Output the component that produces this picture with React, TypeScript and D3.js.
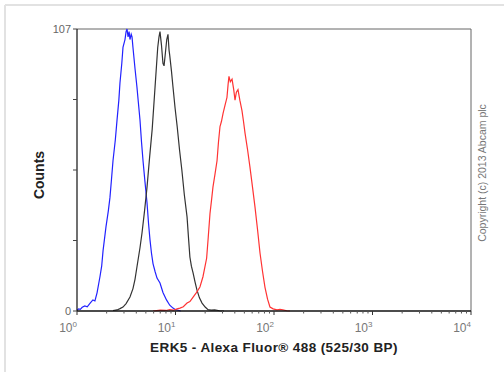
import * as d3 from 'd3';

// histogram channels: [fluorescence value, count]
const blueSeries: [number, number][] = [
  [1.0, 0.3], [1.04, 0.8], [1.08, 0.6], [1.13, 1.4], [1.2, 1.9], [1.27, 1.6], [1.36, 3.0],
  [1.45, 4.2], [1.52, 3.8], [1.6, 7], [1.71, 13], [1.78, 17], [1.84, 23], [1.97, 32],
  [2.08, 38], [2.16, 43], [2.24, 50], [2.32, 57], [2.45, 65], [2.55, 72.5], [2.66, 80],
  [2.73, 86.5], [2.85, 94], [2.93, 100], [3.07, 103], [3.15, 106], [3.22, 107], [3.3, 104],
  [3.38, 106], [3.45, 103], [3.55, 105], [3.62, 104], [3.7, 100], [3.88, 92], [4.06, 85],
  [4.2, 79], [4.36, 72.5], [4.52, 64], [4.68, 57], [4.9, 49], [5.14, 41], [5.33, 33],
  [5.51, 27], [5.7, 22], [5.91, 18], [6.2, 15], [6.49, 12.5], [6.96, 10.6], [7.46, 7],
  [8.1, 4.2], [8.74, 2.2], [9.43, 1.1], [10.0, 0.5], [10.6, 0.3], [11.3, 0],
];

const blackSeries: [number, number][] = [
  [2.32, 0.2], [2.55, 0.4], [2.73, 0.9], [2.93, 1.5], [3.15, 2.8], [3.45, 5.3], [3.7, 8.5],
  [3.88, 12], [4.06, 16.7], [4.36, 24], [4.57, 29.6], [4.85, 38], [5.14, 47], [5.45, 58],
  [5.8, 69], [6.2, 85], [6.6, 100], [6.8, 104], [6.96, 106], [7.2, 101], [7.46, 94],
  [7.65, 93], [7.9, 98], [8.15, 103], [8.39, 105], [8.6, 99], [8.74, 97], [9.1, 91],
  [9.43, 85], [9.9, 77], [10.4, 70], [11.0, 61], [11.6, 53.5], [12.3, 44], [13.1, 35.7],
  [13.6, 27], [14.0, 20.5], [14.5, 17], [15.1, 14.4], [15.8, 11], [16.5, 8], [17.5, 5],
  [18.6, 3], [20.0, 1.5], [21.4, 0.5], [23.0, 0.3], [25.0, 0.4], [28.0, 0.1], [31.0, 0],
];

const redSeries: [number, number][] = [
  [5.9, 0], [7.0, 0.3], [8.0, 0.2], [8.74, 0.5], [9.5, 0.3], [10.4, 0.8], [11.1, 1.1],
  [12.0, 1.6], [13.1, 3], [14.0, 3.6], [15.1, 5.3], [16.3, 7], [17.7, 9.1], [19.0, 13],
  [20.7, 20], [21.5, 28], [22.4, 37], [23.2, 42], [24.0, 47], [25.2, 52], [26.4, 57],
  [27.3, 64], [28.3, 70], [29.3, 72], [30.4, 75], [31.8, 78], [33.3, 81], [34.2, 86],
  [34.9, 89], [36.0, 87], [37.5, 88], [39.0, 84], [40.2, 80], [41.5, 83], [43.1, 84],
  [45.0, 80], [47.3, 76], [49.0, 72], [50.8, 67.5], [54.0, 61], [57.0, 54.6], [60.5, 47],
  [64.1, 39.5], [68.0, 31], [72.1, 22], [76.5, 15], [81.0, 9], [86.0, 4.5], [91.0, 1.5],
  [98, 0.8], [107, 0.4], [115, 0.6], [123, 0.4], [135, 0.1], [145, 0],
];

const xDecades = [0, 1, 2, 3, 4];
const yTicks = [0, 26.75, 53.5, 80.25, 107];
const yLabels = ['0', '107'];
const xTitle = 'ERK5 - Alexa Fluor® 488 (525/30 BP)';
const yTitle = 'Counts';
const copyright = 'Copyright (c) 2013 Abcam plc';

const W = 504;
const H = 372;
const left = 77;
const right = 471;
const top = 29;
const bottom = 311;
const font = '"Liberation Sans", Arial, sans-serif';

export default function App() {
  const x = d3.scaleLog().domain([1, 10000]).range([left, right]);
  const y = d3.scaleLinear().domain([0, 107]).range([bottom, top]);

  const line = d3.line<[number, number]>()
    .x(d => x(d[0]))
    .y(d => y(d[1]))
    .curve(d3.curveLinear);

  const minor: number[] = [];
  for (let p = 0; p < 4; p++) {
    for (let k = 2; k <= 9; k++) minor.push(k * Math.pow(10, p));
  }

  return (
    <svg width={W} height={H} style={{ position: 'absolute', left: 0, top: 0, background: '#fff' }}>
      {/* outer frame (cropped screenshot border) */}
      <line x1={5} x2={W} y1={5} y2={5} stroke="#e2e2e2" strokeWidth={2} />
      <line x1={5} x2={5} y1={5} y2={H} stroke="#e2e2e2" strokeWidth={2} />

      {/* plot frame */}
      <line x1={left} x2={right} y1={top} y2={top} stroke="#666" strokeWidth={1} />
      <line x1={right} x2={right} y1={top} y2={bottom} stroke="#666" strokeWidth={1} />

      {/* series */}
      <path d={line(blueSeries) ?? ''} fill="none" stroke="#2222ff" strokeWidth={1.2} />
      <path d={line(blackSeries) ?? ''} fill="none" stroke="#333" strokeWidth={1.2} />
      <path d={line(redSeries) ?? ''} fill="none" stroke="#ff3333" strokeWidth={1.2} />

      {/* y axis */}
      <line x1={left} x2={left} y1={top} y2={bottom} stroke="#111" strokeWidth={1.2} />
      {yTicks.map((t, i) => (
        <line key={i} x1={left - 4} x2={left} y1={y(t)} y2={y(t)} stroke="#444" />
      ))}
      <text x={left - 6} y={y(0) + 4} textAnchor="end" fontFamily={font} fontSize={11} fill="#666">{yLabels[0]}</text>
      <text x={left - 6} y={y(107) + 4} textAnchor="end" fontFamily={font} fontSize={11} fill="#666">{yLabels[1]}</text>

      {/* x axis */}
      <line x1={left} x2={right} y1={bottom} y2={bottom} stroke="#111" strokeWidth={1.6} />
      {minor.map((v, i) => (
        <line key={'m' + i} x1={x(v)} x2={x(v)} y1={bottom} y2={bottom + 2.5} stroke="#555" />
      ))}
      {xDecades.map(p => (
        <line key={'M' + p} x1={x(Math.pow(10, p))} x2={x(Math.pow(10, p))} y1={bottom} y2={bottom + 4} stroke="#333" />
      ))}
      {xDecades.map(p => (
        <text key={'t' + p} x={x(Math.pow(10, p))} y={332} textAnchor="end" fontFamily={font} fontSize={12} fill="#777">
          10<tspan dy={-5} fontSize={8}>{p}</tspan>
        </text>
      ))}

      {/* titles */}
      <text x={(left + right) / 2} y={352} textAnchor="middle" fontFamily={font} fontSize={13.5} letterSpacing={0.4} fontWeight="bold" fill="#222">{xTitle}</text>
      <text transform={`translate(44,${(top + bottom) / 2 + 5}) rotate(-90)`} textAnchor="middle" fontFamily={font} fontSize={14} fontWeight="bold" fill="#222">{yTitle}</text>
      <text transform={`translate(486,173) rotate(-90)`} textAnchor="middle" fontFamily={font} fontSize={10.5} fill="#777">{copyright}</text>
    </svg>
  );
}
